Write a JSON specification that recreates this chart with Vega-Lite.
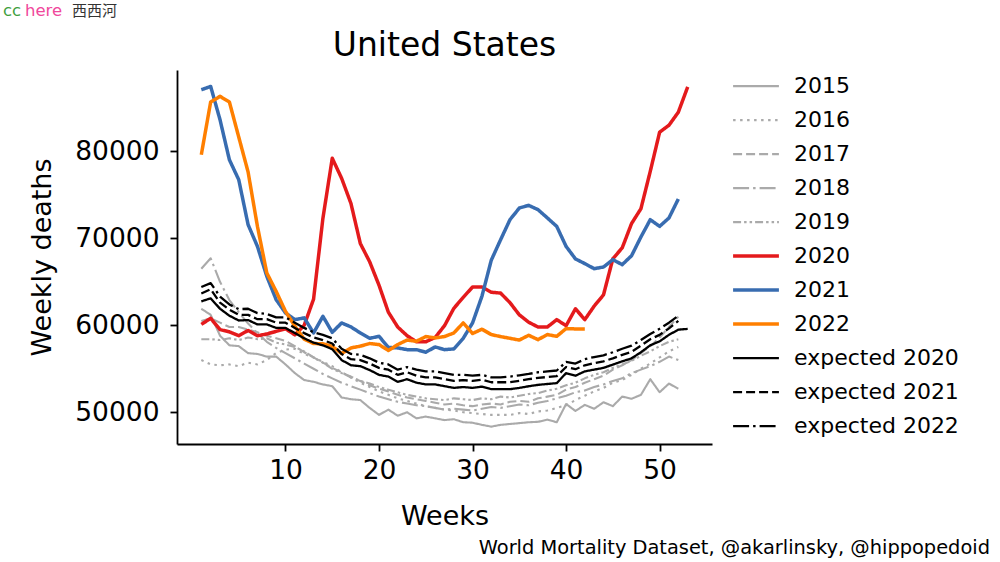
{
"$schema": "https://vega.github.io/schema/vega-lite/v6.json",
"width": 535,
"height": 374,
"autosize": {"type": "none"},
"padding": {"left": 177, "top": 70, "right": 288, "bottom": 118},
"background": "white",
"config": {"view": {"stroke": null}},
"title": {"text": "United States", "fontSize": 33, "font": "DejaVu Sans", "fontWeight": "normal", "color": "black", "frame": "group", "anchor": "middle", "offset": -60},
"layer": [
{
"data": {"values": [
{"s":"2015","w":1,"d":61900},{"s":"2015","w":2,"d":61200},{"s":"2015","w":3,"d":58800},{"s":"2015","w":4,"d":57700},{"s":"2015","w":5,"d":57600},{"s":"2015","w":6,"d":56800},{"s":"2015","w":7,"d":56700},{"s":"2015","w":8,"d":56400},{"s":"2015","w":9,"d":56400},{"s":"2015","w":10,"d":55500},
{"s":"2015","w":11,"d":54500},{"s":"2015","w":12,"d":53700},{"s":"2015","w":13,"d":53500},{"s":"2015","w":14,"d":53200},{"s":"2015","w":15,"d":53000},{"s":"2015","w":16,"d":51700},{"s":"2015","w":17,"d":51500},{"s":"2015","w":18,"d":51400},{"s":"2015","w":19,"d":50500},{"s":"2015","w":20,"d":49700},
{"s":"2015","w":21,"d":50300},{"s":"2015","w":22,"d":49600},{"s":"2015","w":23,"d":50000},{"s":"2015","w":24,"d":49300},{"s":"2015","w":25,"d":49500},{"s":"2015","w":26,"d":49300},{"s":"2015","w":27,"d":49100},{"s":"2015","w":28,"d":49200},{"s":"2015","w":29,"d":48850},{"s":"2015","w":30,"d":48800},
{"s":"2015","w":31,"d":48550},{"s":"2015","w":32,"d":48350},{"s":"2015","w":33,"d":48550},{"s":"2015","w":34,"d":48650},{"s":"2015","w":35,"d":48750},{"s":"2015","w":36,"d":48850},{"s":"2015","w":37,"d":48900},{"s":"2015","w":38,"d":49150},{"s":"2015","w":39,"d":48850},{"s":"2015","w":40,"d":50950},
{"s":"2015","w":41,"d":50150},{"s":"2015","w":42,"d":50850},{"s":"2015","w":43,"d":50400},{"s":"2015","w":44,"d":51150},{"s":"2015","w":45,"d":50700},{"s":"2015","w":46,"d":51800},{"s":"2015","w":47,"d":51550},{"s":"2015","w":48,"d":52000},{"s":"2015","w":49,"d":53800},{"s":"2015","w":50,"d":52300},
{"s":"2015","w":51,"d":53300},{"s":"2015","w":52,"d":52700},
{"s":"2016","w":1,"d":56000},{"s":"2016","w":2,"d":55500},{"s":"2016","w":3,"d":55400},{"s":"2016","w":4,"d":55500},{"s":"2016","w":5,"d":55300},{"s":"2016","w":6,"d":55700},{"s":"2016","w":7,"d":55500},{"s":"2016","w":8,"d":56000},{"s":"2016","w":9,"d":56800},{"s":"2016","w":10,"d":57200},
{"s":"2016","w":11,"d":57300},{"s":"2016","w":12,"d":56700},{"s":"2016","w":13,"d":56300},{"s":"2016","w":14,"d":55800},{"s":"2016","w":15,"d":55300},{"s":"2016","w":16,"d":54600},{"s":"2016","w":17,"d":54000},{"s":"2016","w":18,"d":53400},{"s":"2016","w":19,"d":52900},{"s":"2016","w":20,"d":52400},
{"s":"2016","w":21,"d":52000},{"s":"2016","w":22,"d":51600},{"s":"2016","w":23,"d":51300},{"s":"2016","w":24,"d":51000},{"s":"2016","w":25,"d":50700},{"s":"2016","w":26,"d":50500},{"s":"2016","w":27,"d":50300},{"s":"2016","w":28,"d":50200},{"s":"2016","w":29,"d":50000},{"s":"2016","w":30,"d":49900},
{"s":"2016","w":31,"d":49800},{"s":"2016","w":32,"d":49700},{"s":"2016","w":33,"d":49700},{"s":"2016","w":34,"d":49700},{"s":"2016","w":35,"d":49900},{"s":"2016","w":36,"d":49800},{"s":"2016","w":37,"d":50100},{"s":"2016","w":38,"d":50200},{"s":"2016","w":39,"d":50500},{"s":"2016","w":40,"d":50800},
{"s":"2016","w":41,"d":51400},{"s":"2016","w":42,"d":51900},{"s":"2016","w":43,"d":52400},{"s":"2016","w":44,"d":52800},{"s":"2016","w":45,"d":53400},{"s":"2016","w":46,"d":53700},{"s":"2016","w":47,"d":54300},{"s":"2016","w":48,"d":55000},{"s":"2016","w":49,"d":55600},{"s":"2016","w":50,"d":56300},
{"s":"2016","w":51,"d":57000},{"s":"2016","w":52,"d":57500},
{"s":"2017","w":1,"d":60500},{"s":"2017","w":2,"d":60800},{"s":"2017","w":3,"d":60300},{"s":"2017","w":4,"d":59800},{"s":"2017","w":5,"d":59800},{"s":"2017","w":6,"d":59500},{"s":"2017","w":7,"d":59200},{"s":"2017","w":8,"d":58800},{"s":"2017","w":9,"d":58500},{"s":"2017","w":10,"d":58200},
{"s":"2017","w":11,"d":57600},{"s":"2017","w":12,"d":56900},{"s":"2017","w":13,"d":56300},{"s":"2017","w":14,"d":55700},{"s":"2017","w":15,"d":55100},{"s":"2017","w":16,"d":54600},{"s":"2017","w":17,"d":54000},{"s":"2017","w":18,"d":53600},{"s":"2017","w":19,"d":53100},{"s":"2017","w":20,"d":52700},
{"s":"2017","w":21,"d":52400},{"s":"2017","w":22,"d":52000},{"s":"2017","w":23,"d":51700},{"s":"2017","w":24,"d":51500},{"s":"2017","w":25,"d":51300},{"s":"2017","w":26,"d":51100},{"s":"2017","w":27,"d":50900},{"s":"2017","w":28,"d":51000},{"s":"2017","w":29,"d":50800},{"s":"2017","w":30,"d":50700},
{"s":"2017","w":31,"d":50900},{"s":"2017","w":32,"d":51000},{"s":"2017","w":33,"d":50900},{"s":"2017","w":34,"d":51200},{"s":"2017","w":35,"d":51300},{"s":"2017","w":36,"d":51200},{"s":"2017","w":37,"d":51600},{"s":"2017","w":38,"d":51800},{"s":"2017","w":39,"d":52000},{"s":"2017","w":40,"d":52600},
{"s":"2017","w":41,"d":52900},{"s":"2017","w":42,"d":53400},{"s":"2017","w":43,"d":53800},{"s":"2017","w":44,"d":54200},{"s":"2017","w":45,"d":54900},{"s":"2017","w":46,"d":55400},{"s":"2017","w":47,"d":56000},{"s":"2017","w":48,"d":56800},{"s":"2017","w":49,"d":57600},{"s":"2017","w":50,"d":58600},
{"s":"2017","w":51,"d":59800},{"s":"2017","w":52,"d":61000},
{"s":"2018","w":1,"d":66500},{"s":"2018","w":2,"d":67700},{"s":"2018","w":3,"d":65000},{"s":"2018","w":4,"d":62900},{"s":"2018","w":5,"d":61500},{"s":"2018","w":6,"d":60200},{"s":"2018","w":7,"d":59100},{"s":"2018","w":8,"d":58100},{"s":"2018","w":9,"d":57400},{"s":"2018","w":10,"d":56800},
{"s":"2018","w":11,"d":56200},{"s":"2018","w":12,"d":55600},{"s":"2018","w":13,"d":55000},{"s":"2018","w":14,"d":54400},{"s":"2018","w":15,"d":53900},{"s":"2018","w":16,"d":53400},{"s":"2018","w":17,"d":53000},{"s":"2018","w":18,"d":52600},{"s":"2018","w":19,"d":52200},{"s":"2018","w":20,"d":51800},
{"s":"2018","w":21,"d":51500},{"s":"2018","w":22,"d":51200},{"s":"2018","w":23,"d":51000},{"s":"2018","w":24,"d":50800},{"s":"2018","w":25,"d":50700},{"s":"2018","w":26,"d":50500},{"s":"2018","w":27,"d":50300},{"s":"2018","w":28,"d":50400},{"s":"2018","w":29,"d":50300},{"s":"2018","w":30,"d":50200},
{"s":"2018","w":31,"d":50400},{"s":"2018","w":32,"d":50600},{"s":"2018","w":33,"d":50500},{"s":"2018","w":34,"d":50700},{"s":"2018","w":35,"d":50900},{"s":"2018","w":36,"d":50800},{"s":"2018","w":37,"d":51100},{"s":"2018","w":38,"d":51300},{"s":"2018","w":39,"d":51600},{"s":"2018","w":40,"d":51900},
{"s":"2018","w":41,"d":52300},{"s":"2018","w":42,"d":52500},{"s":"2018","w":43,"d":52900},{"s":"2018","w":44,"d":53200},{"s":"2018","w":45,"d":53600},{"s":"2018","w":46,"d":53900},{"s":"2018","w":47,"d":54500},{"s":"2018","w":48,"d":54900},{"s":"2018","w":49,"d":55300},{"s":"2018","w":50,"d":55800},
{"s":"2018","w":51,"d":56400},{"s":"2018","w":52,"d":56000},
{"s":"2019","w":1,"d":58400},{"s":"2019","w":2,"d":58400},{"s":"2019","w":3,"d":58300},{"s":"2019","w":4,"d":58500},{"s":"2019","w":5,"d":58300},{"s":"2019","w":6,"d":58600},{"s":"2019","w":7,"d":58400},{"s":"2019","w":8,"d":58500},{"s":"2019","w":9,"d":58000},{"s":"2019","w":10,"d":57800},
{"s":"2019","w":11,"d":57500},{"s":"2019","w":12,"d":57000},{"s":"2019","w":13,"d":56300},{"s":"2019","w":14,"d":55700},{"s":"2019","w":15,"d":55000},{"s":"2019","w":16,"d":54500},{"s":"2019","w":17,"d":54100},{"s":"2019","w":18,"d":53600},{"s":"2019","w":19,"d":53300},{"s":"2019","w":20,"d":52900},
{"s":"2019","w":21,"d":52600},{"s":"2019","w":22,"d":52300},{"s":"2019","w":23,"d":52000},{"s":"2019","w":24,"d":51800},{"s":"2019","w":25,"d":51600},{"s":"2019","w":26,"d":51500},{"s":"2019","w":27,"d":51400},{"s":"2019","w":28,"d":51600},{"s":"2019","w":29,"d":51500},{"s":"2019","w":30,"d":51400},
{"s":"2019","w":31,"d":51600},{"s":"2019","w":32,"d":51500},{"s":"2019","w":33,"d":51800},{"s":"2019","w":34,"d":51700},{"s":"2019","w":35,"d":51900},{"s":"2019","w":36,"d":52100},{"s":"2019","w":37,"d":52200},{"s":"2019","w":38,"d":52500},{"s":"2019","w":39,"d":52700},{"s":"2019","w":40,"d":53100},
{"s":"2019","w":41,"d":53400},{"s":"2019","w":42,"d":53900},{"s":"2019","w":43,"d":54300},{"s":"2019","w":44,"d":54600},{"s":"2019","w":45,"d":55100},{"s":"2019","w":46,"d":55500},{"s":"2019","w":47,"d":55900},{"s":"2019","w":48,"d":56500},{"s":"2019","w":49,"d":57000},{"s":"2019","w":50,"d":57600},
{"s":"2019","w":51,"d":58100},{"s":"2019","w":52,"d":58400},
{"s":"2020","w":1,"d":60100},{"s":"2020","w":2,"d":60800},{"s":"2020","w":3,"d":59500},{"s":"2020","w":4,"d":59250},{"s":"2020","w":5,"d":58800},{"s":"2020","w":6,"d":59400},{"s":"2020","w":7,"d":58800},{"s":"2020","w":8,"d":59000},{"s":"2020","w":9,"d":59300},{"s":"2020","w":10,"d":59600},
{"s":"2020","w":11,"d":58900},{"s":"2020","w":12,"d":60000},{"s":"2020","w":13,"d":63000},{"s":"2020","w":14,"d":72300},{"s":"2020","w":15,"d":79200},{"s":"2020","w":16,"d":76900},{"s":"2020","w":17,"d":74000},{"s":"2020","w":18,"d":69400},{"s":"2020","w":19,"d":67300},{"s":"2020","w":20,"d":64600},
{"s":"2020","w":21,"d":61500},{"s":"2020","w":22,"d":59800},{"s":"2020","w":23,"d":58800},{"s":"2020","w":24,"d":58100},{"s":"2020","w":25,"d":58100},{"s":"2020","w":26,"d":58600},{"s":"2020","w":27,"d":59950},{"s":"2020","w":28,"d":61950},{"s":"2020","w":29,"d":63200},{"s":"2020","w":30,"d":64400},
{"s":"2020","w":31,"d":64400},{"s":"2020","w":32,"d":63800},{"s":"2020","w":33,"d":63700},{"s":"2020","w":34,"d":62600},{"s":"2020","w":35,"d":61200},{"s":"2020","w":36,"d":60350},{"s":"2020","w":37,"d":59800},{"s":"2020","w":38,"d":59800},{"s":"2020","w":39,"d":60650},{"s":"2020","w":40,"d":59950},
{"s":"2020","w":41,"d":61900},{"s":"2020","w":42,"d":60650},{"s":"2020","w":43,"d":62200},{"s":"2020","w":44,"d":63500},{"s":"2020","w":45,"d":67650},{"s":"2020","w":46,"d":68900},{"s":"2020","w":47,"d":71700},{"s":"2020","w":48,"d":73400},{"s":"2020","w":49,"d":77700},{"s":"2020","w":50,"d":82200},
{"s":"2020","w":51,"d":83000},{"s":"2020","w":52,"d":84500},{"s":"2020","w":53,"d":87400},
{"s":"2021","w":1,"d":87080},{"s":"2021","w":2,"d":87460},{"s":"2021","w":3,"d":83630},{"s":"2021","w":4,"d":79030},{"s":"2021","w":5,"d":76740},{"s":"2021","w":6,"d":71570},{"s":"2021","w":7,"d":69070},{"s":"2021","w":8,"d":65630},{"s":"2021","w":9,"d":62950},{"s":"2021","w":10,"d":61420},
{"s":"2021","w":11,"d":60650},{"s":"2021","w":12,"d":60850},{"s":"2021","w":13,"d":59120},{"s":"2021","w":14,"d":61030},{"s":"2021","w":15,"d":59190},{"s":"2021","w":16,"d":60270},{"s":"2021","w":17,"d":59810},{"s":"2021","w":18,"d":59120},{"s":"2021","w":19,"d":58500},{"s":"2021","w":20,"d":58730},
{"s":"2021","w":21,"d":57450},{"s":"2021","w":22,"d":57400},{"s":"2021","w":23,"d":57200},{"s":"2021","w":24,"d":57200},{"s":"2021","w":25,"d":56900},{"s":"2021","w":26,"d":57510},{"s":"2021","w":27,"d":57200},{"s":"2021","w":28,"d":57280},{"s":"2021","w":29,"d":58500},{"s":"2021","w":30,"d":60270},
{"s":"2021","w":31,"d":63330},{"s":"2021","w":32,"d":67480},{"s":"2021","w":33,"d":69840},{"s":"2021","w":34,"d":72140},{"s":"2021","w":35,"d":73480},{"s":"2021","w":36,"d":73790},{"s":"2021","w":37,"d":73290},{"s":"2021","w":38,"d":72340},{"s":"2021","w":39,"d":71370},{"s":"2021","w":40,"d":69070},
{"s":"2021","w":41,"d":67630},{"s":"2021","w":42,"d":67090},{"s":"2021","w":43,"d":66510},{"s":"2021","w":44,"d":66700},{"s":"2021","w":45,"d":67550},{"s":"2021","w":46,"d":66970},{"s":"2021","w":47,"d":68000},{"s":"2021","w":48,"d":70150},{"s":"2021","w":49,"d":72140},{"s":"2021","w":50,"d":71370},
{"s":"2021","w":51,"d":72340},{"s":"2021","w":52,"d":74520},
{"s":"2022","w":1,"d":79610},{"s":"2022","w":2,"d":85680},{"s":"2022","w":3,"d":86320},{"s":"2022","w":4,"d":85680},{"s":"2022","w":5,"d":81650},{"s":"2022","w":6,"d":77630},{"s":"2022","w":7,"d":71370},{"s":"2022","w":8,"d":66020},{"s":"2022","w":9,"d":63900},{"s":"2022","w":10,"d":61600},
{"s":"2022","w":11,"d":59900},{"s":"2022","w":12,"d":58400},{"s":"2022","w":13,"d":57900},{"s":"2022","w":14,"d":57870},{"s":"2022","w":15,"d":57580},{"s":"2022","w":16,"d":56750},{"s":"2022","w":17,"d":57400},{"s":"2022","w":18,"d":57600},{"s":"2022","w":19,"d":57900},{"s":"2022","w":20,"d":57780},
{"s":"2022","w":21,"d":57100},{"s":"2022","w":22,"d":57780},{"s":"2022","w":23,"d":58300},{"s":"2022","w":24,"d":58160},{"s":"2022","w":25,"d":58700},{"s":"2022","w":26,"d":58550},{"s":"2022","w":27,"d":58700},{"s":"2022","w":28,"d":59120},{"s":"2022","w":29,"d":60270},{"s":"2022","w":30,"d":59050},
{"s":"2022","w":31,"d":59550},{"s":"2022","w":32,"d":58930},{"s":"2022","w":33,"d":58700},{"s":"2022","w":34,"d":58500},{"s":"2022","w":35,"d":58300},{"s":"2022","w":36,"d":58850},{"s":"2022","w":37,"d":58350},{"s":"2022","w":38,"d":58930},{"s":"2022","w":39,"d":58730},{"s":"2022","w":40,"d":59620},
{"s":"2022","w":41,"d":59580},{"s":"2022","w":42,"d":59580},
{"s":"expected 2020","w":1,"d":62750},{"s":"expected 2020","w":2,"d":63100},{"s":"expected 2020","w":3,"d":61900},{"s":"expected 2020","w":4,"d":61100},{"s":"expected 2020","w":5,"d":60550},{"s":"expected 2020","w":6,"d":60600},{"s":"expected 2020","w":7,"d":60100},{"s":"expected 2020","w":8,"d":60100},{"s":"expected 2020","w":9,"d":59700},{"s":"expected 2020","w":10,"d":59700},
{"s":"expected 2020","w":11,"d":59100},{"s":"expected 2020","w":12,"d":58500},{"s":"expected 2020","w":13,"d":58000},{"s":"expected 2020","w":14,"d":57700},{"s":"expected 2020","w":15,"d":57250},{"s":"expected 2020","w":16,"d":56000},{"s":"expected 2020","w":17,"d":55400},{"s":"expected 2020","w":18,"d":55300},{"s":"expected 2020","w":19,"d":54850},{"s":"expected 2020","w":20,"d":54300},
{"s":"expected 2020","w":21,"d":54100},{"s":"expected 2020","w":22,"d":53500},{"s":"expected 2020","w":23,"d":53800},{"s":"expected 2020","w":24,"d":53400},{"s":"expected 2020","w":25,"d":53200},{"s":"expected 2020","w":26,"d":53200},{"s":"expected 2020","w":27,"d":53000},{"s":"expected 2020","w":28,"d":52800},{"s":"expected 2020","w":29,"d":52900},{"s":"expected 2020","w":30,"d":52800},
{"s":"expected 2020","w":31,"d":52950},{"s":"expected 2020","w":32,"d":52650},{"s":"expected 2020","w":33,"d":52650},{"s":"expected 2020","w":34,"d":52650},{"s":"expected 2020","w":35,"d":52800},{"s":"expected 2020","w":36,"d":52990},{"s":"expected 2020","w":37,"d":53150},{"s":"expected 2020","w":38,"d":53250},{"s":"expected 2020","w":39,"d":53350},{"s":"expected 2020","w":40,"d":54500},
{"s":"expected 2020","w":41,"d":54200},{"s":"expected 2020","w":42,"d":54700},{"s":"expected 2020","w":43,"d":54900},{"s":"expected 2020","w":44,"d":55100},{"s":"expected 2020","w":45,"d":55480},{"s":"expected 2020","w":46,"d":55850},{"s":"expected 2020","w":47,"d":56200},{"s":"expected 2020","w":48,"d":56900},{"s":"expected 2020","w":49,"d":57700},{"s":"expected 2020","w":50,"d":58150},
{"s":"expected 2020","w":51,"d":58900},{"s":"expected 2020","w":52,"d":59500},{"s":"expected 2020","w":53,"d":59580},
{"s":"expected 2021","w":1,"d":63650},{"s":"expected 2021","w":2,"d":64150},{"s":"expected 2021","w":3,"d":62600},{"s":"expected 2021","w":4,"d":61800},{"s":"expected 2021","w":5,"d":61200},{"s":"expected 2021","w":6,"d":61200},{"s":"expected 2021","w":7,"d":60700},{"s":"expected 2021","w":8,"d":60700},{"s":"expected 2021","w":9,"d":60300},{"s":"expected 2021","w":10,"d":60300},
{"s":"expected 2021","w":11,"d":59700},{"s":"expected 2021","w":12,"d":59100},{"s":"expected 2021","w":13,"d":58600},{"s":"expected 2021","w":14,"d":58300},{"s":"expected 2021","w":15,"d":57900},{"s":"expected 2021","w":16,"d":56700},{"s":"expected 2021","w":17,"d":56100},{"s":"expected 2021","w":18,"d":56000},{"s":"expected 2021","w":19,"d":55600},{"s":"expected 2021","w":20,"d":55100},
{"s":"expected 2021","w":21,"d":54900},{"s":"expected 2021","w":22,"d":54300},{"s":"expected 2021","w":23,"d":54600},{"s":"expected 2021","w":24,"d":54200},{"s":"expected 2021","w":25,"d":54000},{"s":"expected 2021","w":26,"d":54000},{"s":"expected 2021","w":27,"d":53800},{"s":"expected 2021","w":28,"d":53600},{"s":"expected 2021","w":29,"d":53700},{"s":"expected 2021","w":30,"d":53600},
{"s":"expected 2021","w":31,"d":53750},{"s":"expected 2021","w":32,"d":53450},{"s":"expected 2021","w":33,"d":53450},{"s":"expected 2021","w":34,"d":53450},{"s":"expected 2021","w":35,"d":53600},{"s":"expected 2021","w":36,"d":53800},{"s":"expected 2021","w":37,"d":53950},{"s":"expected 2021","w":38,"d":54050},{"s":"expected 2021","w":39,"d":54150},{"s":"expected 2021","w":40,"d":55200},
{"s":"expected 2021","w":41,"d":54950},{"s":"expected 2021","w":42,"d":55400},{"s":"expected 2021","w":43,"d":55650},{"s":"expected 2021","w":44,"d":55850},{"s":"expected 2021","w":45,"d":56200},{"s":"expected 2021","w":46,"d":56600},{"s":"expected 2021","w":47,"d":56950},{"s":"expected 2021","w":48,"d":57650},{"s":"expected 2021","w":49,"d":58400},{"s":"expected 2021","w":50,"d":58900},
{"s":"expected 2021","w":51,"d":59650},{"s":"expected 2021","w":52,"d":60500},
{"s":"expected 2022","w":1,"d":64400},{"s":"expected 2022","w":2,"d":64850},{"s":"expected 2022","w":3,"d":63300},{"s":"expected 2022","w":4,"d":62400},{"s":"expected 2022","w":5,"d":61850},{"s":"expected 2022","w":6,"d":61900},{"s":"expected 2022","w":7,"d":61400},{"s":"expected 2022","w":8,"d":61300},{"s":"expected 2022","w":9,"d":60900},{"s":"expected 2022","w":10,"d":60900},
{"s":"expected 2022","w":11,"d":60300},{"s":"expected 2022","w":12,"d":59700},{"s":"expected 2022","w":13,"d":59200},{"s":"expected 2022","w":14,"d":58900},{"s":"expected 2022","w":15,"d":58500},{"s":"expected 2022","w":16,"d":57300},{"s":"expected 2022","w":17,"d":56700},{"s":"expected 2022","w":18,"d":56600},{"s":"expected 2022","w":19,"d":56200},{"s":"expected 2022","w":20,"d":55700},
{"s":"expected 2022","w":21,"d":55500},{"s":"expected 2022","w":22,"d":54900},{"s":"expected 2022","w":23,"d":55200},{"s":"expected 2022","w":24,"d":54900},{"s":"expected 2022","w":25,"d":54700},{"s":"expected 2022","w":26,"d":54700},{"s":"expected 2022","w":27,"d":54500},{"s":"expected 2022","w":28,"d":54300},{"s":"expected 2022","w":29,"d":54300},{"s":"expected 2022","w":30,"d":54200},
{"s":"expected 2022","w":31,"d":54300},{"s":"expected 2022","w":32,"d":54000},{"s":"expected 2022","w":33,"d":54000},{"s":"expected 2022","w":34,"d":54100},{"s":"expected 2022","w":35,"d":54250},{"s":"expected 2022","w":36,"d":54400},{"s":"expected 2022","w":37,"d":54600},{"s":"expected 2022","w":38,"d":54700},{"s":"expected 2022","w":39,"d":54800},{"s":"expected 2022","w":40,"d":55800},
{"s":"expected 2022","w":41,"d":55600},{"s":"expected 2022","w":42,"d":56100},{"s":"expected 2022","w":43,"d":56350},{"s":"expected 2022","w":44,"d":56550},{"s":"expected 2022","w":45,"d":56900},{"s":"expected 2022","w":46,"d":57300},{"s":"expected 2022","w":47,"d":57650},{"s":"expected 2022","w":48,"d":58300},{"s":"expected 2022","w":49,"d":59000},{"s":"expected 2022","w":50,"d":59600},
{"s":"expected 2022","w":51,"d":60300},{"s":"expected 2022","w":52,"d":61100}
]},
"mark": {"type": "line", "strokeJoin": "round"},
"encoding": {
"x": {"field": "w", "type": "quantitative", "title": "Weeks",
 "scale": {"domain": [-1.6, 55.6], "nice": false, "zero": false},
 "axis": {"values": [10, 20, 30, 40, 50], "grid": false, "domainColor": "black", "domainWidth": 1.8, "tickColor": "black", "tickWidth": 1.8, "tickSize": 7, "labelFontSize": 26.5, "labelFont": "DejaVu Sans", "labelColor": "black", "labelPadding": 6, "labelFlush": false, "titleFontSize": 27, "titleFont": "DejaVu Sans", "titleFontWeight": "normal", "titleColor": "black", "titlePadding": 20}},
"y": {"field": "d", "type": "quantitative", "title": "Weekly deaths",
 "scale": {"domain": [46350, 89350], "nice": false, "zero": false},
 "axis": {"values": [50000, 60000, 70000, 80000], "format": "d", "grid": false, "domainColor": "black", "domainWidth": 1.8, "tickColor": "black", "tickWidth": 1.8, "tickSize": 7, "labelFontSize": 26.5, "labelFont": "DejaVu Sans", "labelColor": "black", "labelPadding": 11, "labelFlush": false, "titleFontSize": 27, "titleFont": "DejaVu Sans", "titleFontWeight": "normal", "titleColor": "black", "titlePadding": 18}},
"color": {"field": "s", "type": "nominal", "title": null,
 "scale": {"domain": ["2015","2016","2017","2018","2019","2020","2021","2022","expected 2020","expected 2021","expected 2022"],
  "range": ["#aaaaaa","#aaaaaa","#aaaaaa","#aaaaaa","#aaaaaa","#e41a1c","#386cb0","#ff7f00","#000000","#000000","#000000"]},
 "legend": {"orient": "none", "legendX": 554, "legendY": -0.5, "symbolType": "stroke", "symbolSize": 2100, "labelFontSize": 22, "labelFont": "DejaVu Sans", "labelColor": "black", "labelOffset": 13, "rowPadding": 0, "clipHeight": 33.2, "labelLimit": 300}},
"strokeDash": {"field": "s", "type": "nominal", "title": null,
 "scale": {"domain": ["2015","2016","2017","2018","2019","2020","2021","2022","expected 2020","expected 2021","expected 2022"],
  "range": [[1,0],[2.5,4.5],[9,4],[16,4,2.5,4],[8,3,2.5,3,2.5,3],[1,0],[1,0],[1,0],[1,0],[9,4],[16,4,2.5,4]]}},
"strokeWidth": {"field": "s", "type": "nominal", "title": null,
 "scale": {"type": "ordinal", "domain": ["2015","2016","2017","2018","2019","2020","2021","2022","expected 2020","expected 2021","expected 2022"],
  "range": [2.1,2.1,2.1,2.1,2.1,3.5,3.5,3.5,2.3,2.3,2.3]}}
}
},
{
"data": {"values": [{"label": "World Mortality Dataset, @akarlinsky, @hippopedoid"}]},
"mark": {"type": "text", "align": "right", "baseline": "alphabetic", "font": "DejaVu Sans", "fontSize": 19.4, "color": "black"},
"encoding": {"x": {"datum": 85.32, "type": "quantitative"}, "y": {"datum": 33700, "type": "quantitative"}, "text": {"field": "label"}}
},
{
"data": {"values": [{"label": "cc"}]},
"mark": {"type": "text", "align": "left", "baseline": "alphabetic", "font": "DejaVu Sans", "fontSize": 16.5, "color": "#3f9f3f"},
"encoding": {"x": {"datum": -20.2, "type": "quantitative"}, "y": {"datum": 95558, "type": "quantitative"}, "text": {"field": "label"}}
},
{
"data": {"values": [{"label": "here"}]},
"mark": {"type": "text", "align": "left", "baseline": "alphabetic", "font": "DejaVu Sans", "fontSize": 16.5, "color": "#f0489c"},
"encoding": {"x": {"datum": -17.85, "type": "quantitative"}, "y": {"datum": 95558, "type": "quantitative"}, "text": {"field": "label"}}
},
{
"data": {"values": [{"label": "西西河"}]},
"mark": {"type": "text", "align": "left", "baseline": "alphabetic", "font": "Noto Sans CJK SC", "fontSize": 15, "color": "#333333"},
"encoding": {"x": {"datum": -12.83, "type": "quantitative"}, "y": {"datum": 95558, "type": "quantitative"}, "text": {"field": "label"}}
}
]
}
